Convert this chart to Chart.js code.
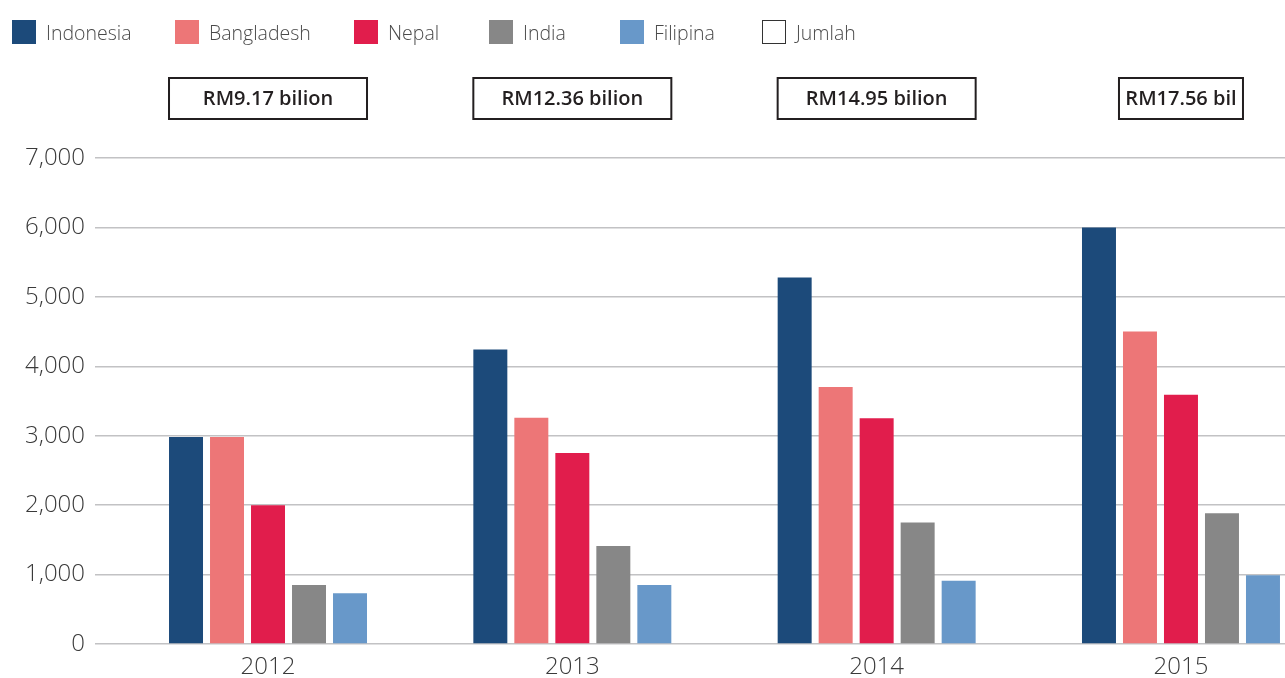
<!DOCTYPE html>
<html>
<head>
<meta charset="utf-8">
<script src="https://cdn.jsdelivr.net/npm/chart.js@4/dist/chart.umd.min.js"></script>
<style>
html,body{margin:0;padding:0;background:#fff;overflow:hidden;}
#wrap{position:relative;width:1285px;height:678px;}
#c{position:absolute;left:0;top:0;}
.lg{position:absolute;top:20px;height:24px;display:flex;align-items:center;font-family:"Open Sans",sans-serif;font-weight:300;font-size:19.5px;color:#4a4a4a;white-space:nowrap;}
.sw{width:24px;height:24px;margin-right:10px;box-sizing:border-box;}
</style>
</head>
<body>
<div id="wrap">
<canvas id="c" width="1285" height="678"></canvas>
<div id="legend"></div>
</div>
<script>
// ---- data ----
const categories = ['2012', '2013', '2014', '2015'];
const indonesia  = [2980, 4240, 5280, 6000];
const bangladesh = [2980, 3260, 3700, 4500];
const nepal      = [2000, 2750, 3250, 3590];
const india      = [850, 1410, 1750, 1885];
const filipina   = [730, 850, 910, 990];
const totalLabels = ['RM9.17 bilion', 'RM12.36 bilion', 'RM14.95 bilion', 'RM17.56 bil'];
const yTicks = [0, 1000, 2000, 3000, 4000, 5000, 6000, 7000];
const seriesNames = ['Indonesia', 'Bangladesh', 'Nepal', 'India', 'Filipina'];
const totalName = 'Jumlah';

// ---- styles ----
const colors = ['#1c4a7a', '#ed7677', '#e11d4c', '#878787', '#6898c9'];
const legendLefts = [12, 175, 354, 489, 620, 762];
const boxWidths = [198, 198, 198, 124];

const seriesData = [indonesia, bangladesh, nepal, india, filipina];

// HTML legend
const lg = document.getElementById('legend');
seriesNames.concat([totalName]).forEach((name, i) => {
  const d = document.createElement('div');
  d.className = 'lg';
  d.style.left = legendLefts[i] + 'px';
  const s = document.createElement('span');
  s.className = 'sw';
  if (i < colors.length) { s.style.background = colors[i]; }
  else { s.style.background = '#fff'; s.style.border = '1.5px solid #333'; }
  d.appendChild(s);
  d.appendChild(document.createTextNode(name));
  lg.appendChild(d);
});

const totalsPlugin = {
  id: 'totals',
  afterDraw(chart) {
    const ctx = chart.ctx;
    const xs = chart.scales.x;
    ctx.save();
    ctx.font = '600 20px "Open Sans", sans-serif';
    ctx.textAlign = 'center';
    ctx.textBaseline = 'middle';
    categories.forEach((c, i) => {
      const cx = xs.getPixelForValue(+c);
      const w = boxWidths[i];
      ctx.fillStyle = '#fff';
      ctx.fillRect(cx - w / 2, 78, w, 41);
      ctx.lineWidth = 2;
      ctx.strokeStyle = '#231f20';
      ctx.strokeRect(cx - w / 2, 78, w, 41);
      ctx.fillStyle = '#231f20';
      ctx.fillText(totalLabels[i], cx, 99);
    });
    ctx.restore();
  }
};

new Chart(document.getElementById('c'), {
  type: 'bar',
  data: {
    labels: categories,
    datasets: seriesNames.map((n, i) => ({
      label: n,
      data: seriesData[i],
      backgroundColor: colors[i],
      borderWidth: 0,
      categoryPercentage: 0.6736,
      barPercentage: 0.829
    }))
  },
  options: {
    responsive: false,
    animation: false,
    layout: { padding: { top: 158, left: 0, right: 0, bottom: 0 } },
    plugins: { legend: { display: false }, tooltip: { enabled: false } },
    scales: {
      x: {
        type: 'linear',
        bounds: 'data',
        offset: false,
        min: 2011.4315,
        max: 2015.3418,
        grid: { display: false, drawTicks: false, offset: false },
        border: { display: false },
        afterBuildTicks: (s) => { s.ticks = categories.map(c => ({ value: +c })); },
        afterFit: (s) => { s.height = 34; },
        ticks: {
          padding: 9,
          color: '#3a3a3a',
          font: { family: '"Open Sans", sans-serif', size: 24, weight: '300' },
          callback: (v) => String(v)
        }
      },
      y: {
        min: 0,
        max: 7000,
        afterBuildTicks: (s) => { s.ticks = yTicks.map(v => ({ value: v })); },
        afterFit: (s) => { s.width = 95; },
        grid: { color: '#c2c2c4', lineWidth: 1.5, drawTicks: false },
        border: { display: false },
        ticks: {
          padding: 10,
          color: '#3a3a3a',
          font: { family: '"Open Sans", sans-serif', size: 24, weight: '300' },
          callback: (v) => v.toLocaleString('en-US')
        }
      }
    }
  },
  plugins: [totalsPlugin]
});
</script>
</body>
</html>
